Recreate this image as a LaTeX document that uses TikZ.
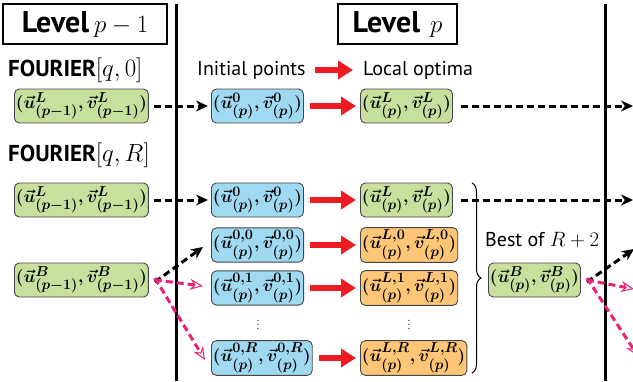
\documentclass[tikz,border=0pt]{standalone}
\usepackage{amsmath}
\usepackage{bm}
\usepackage{fontspec}
\setsansfont{PT Sans}
\usetikzlibrary{arrows.meta,decorations.pathreplacing}
\definecolor{bgreen}{RGB}{198,224,158}
\definecolor{bblue}{RGB}{160,218,242}
\definecolor{borange}{RGB}{255,198,120}
\definecolor{bedge}{RGB}{70,70,70}
\definecolor{ared}{RGB}{237,28,36}
\definecolor{apink}{RGB}{236,32,120}
\tikzset{
  pbox/.style={draw=bedge, line width=0.9pt, rounded corners=5pt, minimum height=34pt,
    inner xsep=1.5pt, inner ysep=2.5pt, anchor=west, font=\fontsize{19}{21}\selectfont\boldmath},
  gbox/.style={pbox, fill=bgreen},
  bbox/.style={pbox, fill=bblue},
  obox/.style={pbox, fill=borange},
  levelbox/.style={draw, line width=1.1pt, minimum height=40pt, inner sep=0pt,
    font=\sffamily\fontsize{30}{32}\selectfont},
  lbl/.style={anchor=west, inner sep=0pt, font=\sffamily\fontsize{20}{22}\selectfont},
  flbl/.style={anchor=west, inner sep=0pt, font=\sffamily\fontsize{23}{25}\selectfont},
  redarrow/.style={ared, line width=6pt, -{Triangle[length=15pt,width=18pt]}},
  bdash/.style={black, line width=3pt, dash pattern=on 7pt off 4pt, -{Stealth[length=12pt,width=11pt]}},
  pdash/.style={apink, line width=3pt, dash pattern=on 7pt off 4pt, -{Stealth[open,length=13pt,width=11pt,line width=1pt]}},
  sep/.style={line width=3pt},
  dotsnode/.style={inner sep=0pt, font=\fontsize{15}{17}\selectfont}
}
\begin{document}
\begin{tikzpicture}[x=1pt,y=-1pt]
\useasboundingbox (0,0) rectangle (633,381);
% level separators
\draw[sep] (176,4) -- (176,381);
\draw[sep] (605,4) -- (605,381);
% level headings
\node[levelbox, minimum width=164pt] (lev1) at (85,24) {\textbf{Level}\,$p-1$};
\node[levelbox, minimum width=119pt] (lev2) at (397.5,24) {\textbf{Level}\,\,$p$};
% labels
\node[flbl] (f0) at (8,70) {\textbf{FOURIER}$[q,0]$};
\node[flbl] (fR) at (8,155) {\textbf{FOURIER}$[q,R]$};
\node[lbl] (init) at (197,70) {Initial points};
\node[lbl] (loc) at (363,70) {Local optima};
\node[lbl] (best) at (485,240) {Best of $R+2$};
\draw[redarrow] ([xshift=9pt]init.east) -- ([xshift=-10pt]loc.west);
% row 1
\node[gbox] (a1) at (14,106) {$(\vec{u}^{L}_{(p-1)},\vec{v}^{L}_{(p-1)})$};
\node[bbox] (b1) at (211,106) {$(\vec{u}^{0}_{(p)},\vec{v}^{0}_{(p)})$};
\node[gbox] (c1) at (360,106) {$(\vec{u}^{L}_{(p)},\vec{v}^{L}_{(p)})$};
% row 2
\node[gbox] (a2) at (14,200) {$(\vec{u}^{L}_{(p-1)},\vec{v}^{L}_{(p-1)})$};
\node[bbox] (b2) at (211,200) {$(\vec{u}^{0}_{(p)},\vec{v}^{0}_{(p)})$};
\node[gbox] (c2) at (360,200) {$(\vec{u}^{L}_{(p)},\vec{v}^{L}_{(p)})$};
% rows 3..5
\node[bbox] (b3) at (211,245) {$(\vec{u}^{0,0}_{(p)},\vec{v}^{0,0}_{(p)})$};
\node[obox] (c3) at (360,245) {$(\vec{u}^{L,0}_{(p)},\vec{v}^{L,0}_{(p)})$};
\node[bbox] (b4) at (211,288) {$(\vec{u}^{0,1}_{(p)},\vec{v}^{0,1}_{(p)})$};
\node[obox] (c4) at (360,288) {$(\vec{u}^{L,1}_{(p)},\vec{v}^{L,1}_{(p)})$};
\node[dotsnode] (d1) at (258,322) {$\vdots$};
\node[dotsnode] (d2) at (409,322) {$\vdots$};
\node[bbox] (b5) at (211,358) {$(\vec{u}^{0,R}_{(p)},\vec{v}^{0,R}_{(p)})$};
\node[obox] (c5) at (360,358) {$(\vec{u}^{L,R}_{(p)},\vec{v}^{L,R}_{(p)})$};
% best nodes
\node[gbox] (a3) at (14,280) {$(\vec{u}^{B}_{(p-1)},\vec{v}^{B}_{(p-1)})$};
\node[gbox] (c6) at (488,280) {$(\vec{u}^{B}_{(p)},\vec{v}^{B}_{(p)})$};
% red arrows
\foreach \i in {1,...,5}{
  \draw[redarrow] ([xshift=6pt]b\i.east |- c\i.west) -- ([xshift=-4pt]c\i.west);
}
% dashed arrows
\draw[bdash] ([xshift=5pt]a1.east) -- ([xshift=-3pt]b1.west);
\draw[bdash] ([xshift=5pt]a2.east) -- ([xshift=-3pt]b2.west);
\coordinate (e1) at (633,106);
\coordinate (e2) at (633,200);
\draw[bdash] ([xshift=8pt]c1.east) -- (e1);
\draw[bdash] ([xshift=8pt]c2.east) -- (e2);
\draw[bdash] ([xshift=6pt,yshift=-2pt]a3.east) -- (203,247);
\draw[pdash] ([xshift=6pt]a3.east) -- ([xshift=-8pt,yshift=2pt]b4.west);
\draw[pdash] ([xshift=6pt,yshift=2pt]a3.east) -- ([xshift=-6pt,yshift=-2pt]b5.west);
% right side outgoing
\coordinate (e3) at (634,249);
\coordinate (e4) at (634,289);
\coordinate (e5) at (638,356);
\draw[bdash] ([xshift=6pt,yshift=-2pt]c6.east) -- (e3);
\draw[pdash] ([xshift=6pt]c6.east) -- (e4);
\draw[pdash] ([xshift=6pt,yshift=2pt]c6.east) -- (e5);
% brace
\draw[line width=1pt, decorate, decoration={brace, amplitude=9pt}] (472,183) -- (472,373);
\end{tikzpicture}
\end{document}
